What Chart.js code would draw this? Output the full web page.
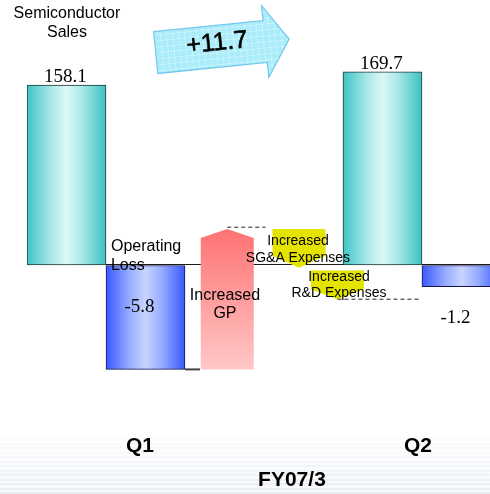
<!DOCTYPE html>
<html>
<head>
<meta charset="utf-8">
<script src="https://cdn.jsdelivr.net/npm/chart.js@4.4.1/dist/chart.umd.min.js"></script>
<style>
  html, body { margin: 0; padding: 0; background: #ffffff; }
  #wrap { width: 490px; height: 494px; position: relative; }
</style>
</head>
<body>
<div id="wrap"><canvas id="c" width="490" height="494"></canvas></div>
<script>
// Semiconductor segment: sales and operating result, FY07/3 Q1 -> Q2 (billion yen)
const quarters = ['Q1', 'Q2'];
const fiscalYear = 'FY07/3';
const salesValues = [158.1, 169.7];
const operatingValues = [-5.8, -1.2];
const salesGrowthText = '+11.7';
const salesTitle = ['Semiconductor', 'Sales'];
const operatingTitle = ['Operating', 'Loss'];
// bridge from Q1 to Q2 operating result, each step as [from, to]
const bridgeLabels = [['Increased', 'GP'], ['Increased', 'SG&A Expenses'], ['Increased', 'R&D Expenses']];
const bridgeRanges = [[-5.8, 2.0], [2.0, -0.15], [-0.3, -1.9]];

// ---- layout (x in bar-width units, y in operating-result units) ----
const slots = { sales: [0.5, 4.5], operating: [1.5, 5.5], bridge: [2.535, 3.443, 3.93] };
const tickPositions = [1.43, 3.354, 4.95];
const FONT = '"Liberation Sans", Arial, Helvetica, sans-serif';
const SERIF = '"Liberation Serif", "Times New Roman", serif';

const notePlacement = [
  { lines: salesTitle, x: 0.506, y: 13.94, gap: 19, size: 16, align: 'center' },
  { lines: operatingTitle, x: 1.063, y: 1.0, gap: 19, size: 16, align: 'left' },
  { lines: bridgeLabels[0], x: 2.506, y: -1.72, gap: 18, size: 16, align: 'center' },
  { lines: bridgeLabels[1], x: 3.43, y: 1.333, gap: 17, size: 14, align: 'center' },
  { lines: bridgeLabels[2], x: 3.949, y: -0.667, gap: 16, size: 14, align: 'center' }
];
const bridgeHead = [9, 12, 10];
const operatingLabelOffset = [42, 53];
const growthArrow = { x: 1.63, y: 186.6, angle: -0.1005 };

function horizontalGradient(stops) {
  return (ctx) => {
    const chart = ctx.chart;
    if (!chart.chartArea || ctx.type !== 'data') return stops[0][1];
    const cx = chart.scales.x.getPixelForValue(ctx.raw.x);
    const half = ctx.dataset.barThickness / 2;
    const g = chart.ctx.createLinearGradient(cx - half, 0, cx + half, 0);
    stops.forEach(([o, col]) => g.addColorStop(o, col));
    return g;
  };
}

const tealStops = [[0, '#3fc4c4'], [0.3, '#a8e8e8'], [0.5, '#dcf7f7'], [0.7, '#a8e8e8'], [1, '#3cc0c0']];
const blueStops = [[0, '#3a58ff'], [0.3, '#98adff'], [0.5, '#c8d4ff'], [0.7, '#98adff'], [1, '#3a58ff']];

const pageBackground = {
  id: 'pageBackground',
  beforeDraw(chart) {
    const c = chart.ctx;
    c.save();
    c.fillStyle = '#ffffff';
    c.fillRect(0, 0, chart.width, chart.height);
    const g = c.createLinearGradient(0, 430, 0, chart.height);
    g.addColorStop(0, 'rgba(246,248,250,0)');
    g.addColorStop(1, 'rgba(246,248,250,1)');
    c.fillStyle = g;
    c.fillRect(0, 430, chart.width, chart.height - 430);
    for (let y = 438; y < chart.height; y += 4.5) {
      const a = 0.04 + 0.22 * (y - 438) / (chart.height - 438);
      c.fillStyle = 'rgba(200,210,225,' + a.toFixed(3) + ')';
      c.fillRect(0, Math.round(y), chart.width, 2);
    }
    c.restore();
  }
};

const bridgeArrows = {
  id: 'bridgeArrows',
  afterDatasetDraw(chart, args) {
    if (args.meta._dataset !== chart.data.datasets[2]) return;
    const c = chart.ctx;
    const yO = chart.scales.yO;
    args.meta.data.forEach((el, i) => {
      const [from, to] = bridgeRanges[i];
      const x0 = el.x - el.width / 2, x1 = el.x + el.width / 2;
      const yFrom = yO.getPixelForValue(from), yTo = yO.getPixelForValue(to);
      const dir = yTo < yFrom ? -1 : 1;
      const yShoulder = yTo - dir * bridgeHead[i];
      c.save();
      c.beginPath();
      c.moveTo(x0, yFrom);
      c.lineTo(x0, yShoulder);
      c.lineTo(el.x, yTo);
      c.lineTo(x1, yShoulder);
      c.lineTo(x1, yFrom);
      c.closePath();
      if (i === 0) {
        const g = c.createLinearGradient(0, yTo, 0, yFrom);
        g.addColorStop(0, '#ff7272');
        g.addColorStop(1, '#ffc8c8');
        c.fillStyle = g;
      } else {
        c.fillStyle = '#e4e400';
      }
      c.fill();
      c.restore();
    });
  }
};

function makeGridPattern(c) {
  const t = document.createElement('canvas');
  t.width = 6; t.height = 6;
  const p = t.getContext('2d');
  p.fillStyle = '#a8ecfa';
  p.fillRect(0, 0, 6, 6);
  p.fillStyle = 'rgba(255,255,255,0.35)';
  p.fillRect(0, 0, 6, 1);
  p.fillRect(0, 0, 1, 6);
  p.fillStyle = 'rgba(255,255,255,0.3)';
  p.fillRect(3, 3, 1, 1);
  return c.createPattern(t, 'repeat');
}

const annotations = {
  id: 'annotations',
  afterDatasetsDraw(chart) {
    const c = chart.ctx;
    const { x, yS, yO } = chart.scales;

    // growth arrow between the two sales bars
    c.save();
    c.translate(x.getPixelForValue(growthArrow.x), yS.getPixelForValue(growthArrow.y));
    c.rotate(growthArrow.angle);
    c.beginPath();
    c.moveTo(0, -21);
    c.lineTo(110, -21);
    c.lineTo(110, -36);
    c.lineTo(134, 0);
    c.lineTo(110, 36);
    c.lineTo(110, 21);
    c.lineTo(0, 21);
    c.closePath();
    c.fillStyle = makeGridPattern(c);
    c.fill();
    c.strokeStyle = '#74c8ee';
    c.lineWidth = 1.3;
    c.stroke();
    c.fillStyle = '#000';
    c.font = '25px ' + FONT;
    c.textAlign = 'center';
    c.textBaseline = 'middle';
    c.lineWidth = 0.6;
    c.strokeStyle = '#000';
    c.fillText(salesGrowthText, 62, -3);
    c.strokeText(salesGrowthText, 62, -3);
    c.restore();

    c.save();
    c.fillStyle = '#000';
    // sales values above bars
    const salesMeta = chart.getDatasetMeta(0);
    c.font = '19px ' + SERIF;
    c.textAlign = 'center';
    c.textBaseline = 'alphabetic';
    salesMeta.data.forEach((el, i) => {
      c.fillText(salesValues[i].toFixed(1), el.x - 1, el.y - 3);
    });
    // operating result values
    const opMeta = chart.getDatasetMeta(1);
    c.textBaseline = 'middle';
    const zero = yO.getPixelForValue(0);
    opMeta.data.forEach((el, i) => {
      c.fillText(operatingValues[i].toFixed(1), el.x - 6, zero + operatingLabelOffset[i]);
    });
    // descriptive notes
    notePlacement.forEach((n) => {
      c.font = n.size + 'px ' + FONT;
      c.textAlign = n.align;
      const px = x.getPixelForValue(n.x);
      const py = yO.getPixelForValue(n.y);
      n.lines.forEach((line, k) => c.fillText(line, px, py + k * n.gap));
    });
    c.restore();
  }
};

const ctx = document.getElementById('c').getContext('2d');
new Chart(ctx, {
  type: 'bar',
  data: {
    datasets: [
      {
        label: 'Semiconductor Sales',
        yAxisID: 'yS',
        data: salesValues.map((v, i) => ({ x: slots.sales[i], y: v })),
        barThickness: 79,
        grouped: false,
        backgroundColor: horizontalGradient(tealStops),
        borderColor: '#1e3838',
        borderWidth: 1,
        borderSkipped: false,
        order: 3
      },
      {
        label: 'Operating Loss',
        yAxisID: 'yO',
        data: operatingValues.map((v, i) => ({ x: slots.operating[i], y: v })),
        barThickness: 79,
        grouped: false,
        backgroundColor: horizontalGradient(blueStops),
        borderColor: '#141450',
        borderWidth: 1,
        borderSkipped: false,
        order: 2
      },
      {
        label: 'Bridge',
        yAxisID: 'yO',
        data: bridgeRanges.map((r, i) => ({ x: slots.bridge[i], y: r })),
        barThickness: 53,
        grouped: false,
        backgroundColor: 'rgba(0,0,0,0)',
        borderWidth: 0,
        order: 4
      },
      {
        type: 'line',
        label: 'GP top',
        yAxisID: 'yO',
        data: [{ x: slots.bridge[0], y: bridgeRanges[0][1] + 0.1 }, { x: 3.02, y: bridgeRanges[1][0] + 0.1 }],
        borderColor: '#222',
        borderWidth: 1,
        borderDash: [4, 3],
        pointRadius: 0,
        order: 1
      },
      {
        type: 'line',
        label: 'R&D bottom',
        yAxisID: 'yO',
        data: [{ x: slots.bridge[2], y: bridgeRanges[2][1] }, { x: 4.97, y: bridgeRanges[2][1] }],
        borderColor: '#222',
        borderWidth: 1,
        borderDash: [4, 3],
        pointRadius: 0,
        order: 1
      },
      {
        type: 'line',
        label: 'GP base',
        yAxisID: 'yO',
        data: [{ x: 2.0, y: operatingValues[0] }, { x: 2.19, y: operatingValues[0] }],
        borderColor: '#444',
        borderWidth: 2,
        pointRadius: 0,
        order: 1
      }
    ]
  },
  options: {
    responsive: false,
    devicePixelRatio: 1,
    animation: false,
    events: [],
    layout: { padding: { left: 27, right: 0, top: 0, bottom: 0 } },
    plugins: { legend: { display: false }, tooltip: { enabled: false }, title: { display: false } },
    scales: {
      x: {
        type: 'linear',
        min: 0,
        max: 5.861,
        offset: false,
        grid: { display: false, drawTicks: false },
        border: { display: false },
        afterBuildTicks: (s) => { s.ticks = tickPositions.map((v) => ({ value: v })); },
        afterFit: (s) => { s.height = 74; },
        ticks: {
          autoSkip: false,
          maxRotation: 0,
          minRotation: 0,
          padding: 9,
          color: '#000',
          font: { family: FONT, size: 21, weight: 'bold', lineHeight: 1.62 },
          callback: (v, i) => [quarters[0], ['', fiscalYear], quarters[1]][i]
        }
      },
      yS: {
        type: 'linear',
        display: false,
        min: -136.14,
        max: 232.76
      },
      yO: {
        type: 'linear',
        position: 'left',
        min: -8.611,
        max: 14.722,
        ticks: { display: false },
        border: { display: false },
        grid: {
          drawTicks: false,
          lineWidth: 1,
          color: (c) => (c.tick && c.tick.value === 0 ? '#1a1a1a' : 'rgba(0,0,0,0)')
        },
        afterBuildTicks: (s) => { s.ticks = [{ value: 0 }]; },
        afterFit: (s) => { s.width = 0; }
      }
    }
  },
  plugins: [pageBackground, bridgeArrows, annotations]
});
</script>
</body>
</html>
